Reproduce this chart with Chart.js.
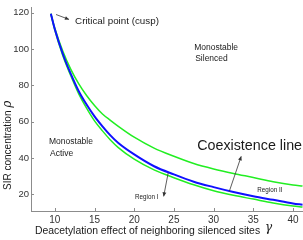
<!DOCTYPE html>
<html>
<head>
<meta charset="utf-8">
<script src="https://cdn.jsdelivr.net/npm/chart.js@4"></script>
<style>
  html, body { margin: 0; padding: 0; background: #fff; }
  #wrap { width: 303px; height: 240px; }
</style>
</head>
<body>
<div id="wrap"><canvas id="phaseChart"></canvas></div>
<script>
// deacetylation effect (gamma) sample points
const gamma = [9.5, 10, 11, 12, 13, 14, 15, 16, 17, 18, 20, 22.5, 25, 27.5, 30, 32.5, 35, 37.5, 40, 41.2];
// coexistence line (blue)
const coexist = [119.5, 111, 97.5, 86.5, 77, 69.5, 63, 57.5, 52.5, 48.3, 42, 35.5, 31, 27, 24, 21.3, 19, 17, 15, 14.3];
// lower boundary of bistable region (green)
const lowerEdge = [119.5, 110.5, 96.5, 85.5, 75.5, 67.5, 60.5, 55, 50, 45.8, 39.4, 33.5, 29.2, 25.3, 22, 19.5, 17.4, 15.3, 13.6, 13.0];
// upper boundary of bistable region (green)
const upperEdge = [119.5, 111.5, 99, 89, 81, 74.5, 69, 64.3, 60.8, 57.5, 51.5, 45.5, 41, 37, 34, 31.5, 29.3, 27, 25.2, 24.6];

const xTicks = [10, 15, 20, 25, 30, 35, 40];
const yTicks = [20, 40, 60, 80, 100, 120];

const pts = ys => gamma.map((g, i) => ({ x: g, y: ys[i] }));

const FONT = "'Liberation Sans', Arial, sans-serif";
const AXIS = "#8c8c8c";

function arrow(ctx, x1, y1, x2, y2) {
  const a = Math.atan2(y2 - y1, x2 - x1), h = 4.5;
  ctx.beginPath();
  ctx.moveTo(x1, y1);
  ctx.lineTo(x2, y2);
  ctx.stroke();
  ctx.beginPath();
  ctx.moveTo(x2, y2);
  ctx.lineTo(x2 - h * Math.cos(a - 0.45), y2 - h * Math.sin(a - 0.45));
  ctx.lineTo(x2 - h * Math.cos(a + 0.45), y2 - h * Math.sin(a + 0.45));
  ctx.closePath();
  ctx.fill();
}

const decorations = {
  id: "decorations",
  afterDraw(chart) {
    const { ctx, scales: { x, y }, chartArea } = chart;
    ctx.save();

    // inward tick marks
    ctx.strokeStyle = AXIS;
    ctx.lineWidth = 1;
    xTicks.forEach(t => {
      const px = Math.round(x.getPixelForValue(t)) + 0.5;
      ctx.beginPath(); ctx.moveTo(px, chartArea.bottom); ctx.lineTo(px, chartArea.bottom - 3); ctx.stroke();
    });
    yTicks.forEach(t => {
      const py = Math.round(y.getPixelForValue(t)) + 0.5;
      ctx.beginPath(); ctx.moveTo(chartArea.left, py); ctx.lineTo(chartArea.left + 3, py); ctx.stroke();
    });

    const P = (g, r) => [x.getPixelForValue(g), y.getPixelForValue(r)];
    const label = (txt, g, r, size) => {
      const [px, py] = P(g, r);
      ctx.font = size + "px " + FONT;
      ctx.fillText(txt, px, py);
    };

    ctx.fillStyle = "#1a1a1a";
    ctx.textBaseline = "middle";
    ctx.textAlign = "left";
    label("Critical point (cusp)", 12.55, 115.3, 9.8);
    label("Monostable", 27.55, 100.8, 8.5);
    label("Silenced", 27.68, 94.6, 8.5);
    label("Monostable", 9.27, 49.05, 8.5);
    label("Active", 9.4, 42.35, 8.5);
    label("Coexistence line", 27.93, 46.4, 14.3);
    label("Region I", 20.1, 18.5, 6.3);
    label("Region II", 35.5, 22.15, 6.3);

    ctx.strokeStyle = "#333";
    ctx.fillStyle = "#333";
    ctx.lineWidth = 0.8;
    arrow(ctx, ...P(10.15, 119.1), ...P(11.79, 116.4));
    arrow(ctx, ...P(31.97, 21.6), ...P(33.48, 41.0));
    arrow(ctx, ...P(24.28, 31.85), ...P(23.71, 18.9));

    // axis titles
    ctx.fillStyle = "#1a1a1a";
    ctx.textAlign = "left";
    ctx.textBaseline = "alphabetic";
    ctx.font = "10.4px " + FONT;
    const xt = "Deacetylation effect of neighboring silenced sites ";
    ctx.fillText(xt, 35, 234);
    const w = ctx.measureText(xt).width;
    ctx.font = "italic 12px 'DejaVu Serif', serif";
    ctx.fillText("γ", 35 + w + 2, 231);

    ctx.translate(11, 190);
    ctx.rotate(-Math.PI / 2);
    ctx.font = "10px " + FONT;
    const yt = "SIR concentration ";
    ctx.fillText(yt, 0, 0);
    const wy = ctx.measureText(yt).width;
    ctx.font = "italic 12px 'DejaVu Serif', serif";
    ctx.fillText("ρ", wy, 0);

    ctx.restore();
  }
};

new Chart(phaseChart, {
  type: "line",
  data: {
    datasets: [
      { data: pts(coexist), borderColor: "#1010ff", borderWidth: 2 },
      { data: pts(lowerEdge), borderColor: "#22ee22", borderWidth: 1.5 },
      { data: pts(upperEdge), borderColor: "#22ee22", borderWidth: 1.5 }
    ]
  },
  options: {
    responsive: true,
    maintainAspectRatio: false,
    animation: false,
    layout: { padding: { top: 3, right: 0, left: 0, bottom: 0 } },
    elements: {
      point: { radius: 0 },
      line: { cubicInterpolationMode: "monotone", fill: false }
    },
    plugins: { legend: { display: false }, tooltip: { enabled: false } },
    scales: {
      x: {
        type: "linear",
        min: 7,
        max: 41.26,
        afterBuildTicks: s => { s.ticks = xTicks.map(v => ({ value: v })); },
        afterFit: s => { s.height = 29; },
        grid: { display: false, drawTicks: false },
        border: { display: true, color: AXIS },
        ticks: { color: "#333", padding: 3, maxRotation: 0, autoSkip: false, font: { family: FONT, size: 10 } }
      },
      y: {
        min: 10.85,
        max: 122.85,
        afterBuildTicks: s => { s.ticks = yTicks.map(v => ({ value: v })); },
        afterFit: s => { s.width = 31; },
        grid: { display: false, drawTicks: false },
        border: { display: true, color: AXIS },
        ticks: { color: "#333", padding: 2, autoSkip: false, font: { family: FONT, size: 9.5 } }
      }
    }
  },
  plugins: [decorations]
});
</script>
</body>
</html>
